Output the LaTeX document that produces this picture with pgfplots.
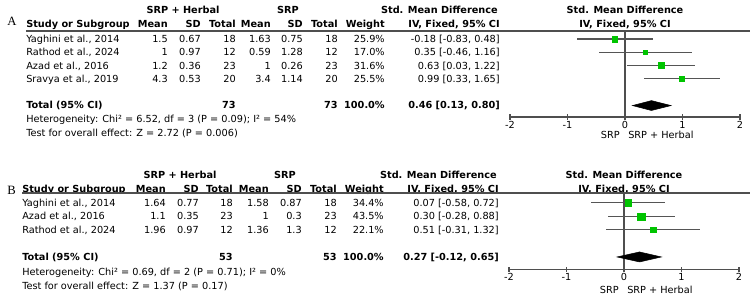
\documentclass[border=0pt]{standalone}
\usepackage{pgfplots}
\pgfplotsset{compat=1.18}
\usepackage{pgfplotstable}
\usepackage{fontspec}
\setmainfont{DejaVu Sans}
\newfontfamily\panelfont{Liberation Serif}

\definecolor{rulegray}{HTML}{4F4F4F}
\definecolor{cigray}{HTML}{555555}
\definecolor{boxgreen}{HTML}{00C400}

% Panel A: per-study SMD, 95% CI and weight (%)
\pgfplotstableread{
y    est    lo     hi    w
-1  -0.18  -0.83  0.48  25.9
-2   0.35  -0.46  1.16  17.0
-3   0.63   0.03  1.22  31.6
-4   0.99   0.33  1.65  25.5
}\studiesA

% Panel B: per-study SMD, 95% CI and weight (%)
\pgfplotstableread{
y    est    lo     hi    w
-1   0.07  -0.58  0.72  34.4
-2   0.30  -0.28  0.88  43.5
-3   0.51  -0.31  1.32  22.1
}\studiesB

\pgfplotsset{
  forest/.style={
    scale only axis, width=172.5pt,
    xmin=-2, xmax=2, clip=false,
    axis x line=bottom, axis y line=none,
    x axis line style={-, draw=rulegray, line width=0.8pt},
    xtick={-2,-1,0,1,2}, xticklabels={-2,-1,0,1,2},
    tick align=center, major tick length=4pt,
    tick style={draw=rulegray, line width=0.8pt},
    xticklabel style={font=\fontsize{7.3}{8}\selectfont, inner sep=1pt},
  },
  ci/.style={draw=none, mark=none,
    error bars/.cd, x dir=both, x explicit, error mark=none,
    error bar style={draw=cigray, line width=0.8pt}},
  boxes/.style={scatter, only marks, mark=square*,
    scatter/use mapped color={draw=boxgreen, fill=boxgreen},
    visualization depends on={0.41*sqrt(\thisrow{w}) \as \msz},
    scatter/@pre marker code/.append style={/tikz/mark size=\msz pt}},
}

\begin{document}
\begin{tikzpicture}[x=0.75pt, y=-0.75pt,
    font=\fontsize{7.3}{8}\selectfont,
    rt/.style={anchor=base east, inner sep=0pt},
    lf/.style={anchor=base west, inner sep=0pt},
    ct/.style={anchor=base, inner sep=0pt}]
\path[use as bounding box] (0,0) rectangle (754,301);

% ---------------- Panel A ----------------
\node[lf, font=\panelfont\fontsize{9.5}{10}\selectfont] at (7,25.5) {A};
\begin{scope}[font=\bfseries\fontsize{7.3}{8}\selectfont]
  \node[ct] at (183,13.5) {SRP + Herbal};
  \node[ct] at (288,13.5) {SRP};
  \node[rt] at (498,13.5) {Std. Mean Difference};
  \node[ct] at (625,13.5) {Std. Mean Difference};
  \node[lf] at (26,27.5) {Study or Subgroup};
  \node[rt] at (168,27.5) {Mean};
  \node[rt] at (201,27.5) {SD};
  \node[rt] at (236,27.5) {Total};
  \node[rt] at (271,27.5) {Mean};
  \node[rt] at (303,27.5) {SD};
  \node[rt] at (338,27.5) {Total};
  \node[rt] at (385,27.5) {Weight};
  \node[rt] at (500,27.5) {IV, Fixed, 95\% CI};
  \node[ct] at (625,27.5) {IV, Fixed, 95\% CI};
\end{scope}
\draw[rulegray, line width=0.8pt] (26,31) -- (750,31);
\foreach \yb/\nm/\ma/\sa/\na/\mb/\sb/\nb/\wt/\smd in {
  42.4/{Yaghini et al., 2014}/1.5/0.67/18/1.63/0.75/18/25.9\%/{-0.18 [-0.83, 0.48]},
  55.7/{Rathod et al., 2024}/1/0.97/12/0.59/1.28/12/17.0\%/{0.35 [-0.46, 1.16]},
  69.0/{Azad et al., 2016}/1.2/0.36/23/1/0.26/23/31.6\%/{0.63 [0.03, 1.22]},
  82.3/{Sravya et al., 2019}/4.3/0.53/20/3.4/1.14/20/25.5\%/{0.99 [0.33, 1.65]}}{
  \node[lf] at (26,\yb) {\nm};
  \node[rt] at (168,\yb) {\ma};
  \node[rt] at (201,\yb) {\sa};
  \node[rt] at (236,\yb) {\na};
  \node[rt] at (271,\yb) {\mb};
  \node[rt] at (303,\yb) {\sb};
  \node[rt] at (338,\yb) {\nb};
  \node[rt] at (385,\yb) {\wt};
  \node[rt] at (500,\yb) {\smd};
}
\begin{scope}[font=\bfseries\fontsize{7.3}{8}\selectfont]
  \node[lf] at (26,108.5) {Total (95\% CI)};
  \node[rt] at (236,108.5) {73};
  \node[rt] at (338,108.5) {73};
  \node[rt] at (385,108.5) {100.0\%};
  \node[rt] at (500,108.5) {0.46 [0.13, 0.80]};
\end{scope}
\node[lf] at (26,122.5) {Heterogeneity: Chi² = 6.52, df = 3 (P = 0.09); I² = 54\%};
\node[lf] at (26,136) {Test for overall effect: Z = 2.72 (P = 0.006)};
\node[rt] at (620,138) {SRP};
\node[lf] at (628,138) {SRP + Herbal};

% axis box: x from 510 px to 740 px, y from 31 px to 117 px
\begin{axis}[forest, at={(382.5pt,-87.75pt)}, anchor=south west,
    height=64.5pt, ymin=-6.86, ymax=-0.4]
  \draw[rulegray, line width=0.8pt] (axis cs:0,-0.4) -- (axis cs:0,-6.86);
  \addplot[ci] table[x=est, y=y,
      x error plus expr=\thisrow{hi}-\thisrow{est},
      x error minus expr=\thisrow{est}-\thisrow{lo}] {\studiesA};
  \addplot[boxes] table[x=est, y=y] {\studiesA};
  % pooled estimate 0.46 [0.13, 0.80]
  \addplot[fill=black, draw=black] coordinates
    {(0.13,-6) (0.46,-5.63) (0.80,-6) (0.46,-6.37)} -- cycle;
\end{axis}

% ---------------- Panel B ----------------
\node[lf, font=\panelfont\fontsize{9.5}{10}\selectfont] at (7,194) {B};
\begin{scope}[xshift=-1.5pt]
\begin{scope}[font=\bfseries\fontsize{7.3}{8}\selectfont]
  \node[ct] at (182,178.5) {SRP + Herbal};
  \node[ct] at (287,178.5) {SRP};
  \node[lf] at (24,192.5) {Study or Subgroup};
  \node[rt] at (168,192.5) {Mean};
  \node[rt] at (201,192.5) {SD};
  \node[rt] at (235,192.5) {Total};
  \node[rt] at (271,192.5) {Mean};
  \node[rt] at (304,192.5) {SD};
  \node[rt] at (339,192.5) {Total};
\end{scope}
\foreach \yb/\nm/\ma/\sa/\na/\mb/\sb/\nb in {
  206.4/{Yaghini et al., 2014}/1.64/0.77/18/1.58/0.87/18,
  219.9/{Azad et al., 2016}/1.1/0.35/23/1/0.3/23,
  233.4/{Rathod et al., 2024}/1.96/0.97/12/1.36/1.3/12}{
  \node[lf] at (24,\yb) {\nm};
  \node[rt] at (168,\yb) {\ma};
  \node[rt] at (201,\yb) {\sa};
  \node[rt] at (235,\yb) {\na};
  \node[rt] at (271,\yb) {\mb};
  \node[rt] at (304,\yb) {\sb};
  \node[rt] at (339,\yb) {\nb};
}
\begin{scope}[font=\bfseries\fontsize{7.3}{8}\selectfont]
  \node[lf] at (24,260.5) {Total (95\% CI)};
  \node[rt] at (235,260.5) {53};
  \node[rt] at (339,260.5) {53};
\end{scope}
\node[lf] at (24,275.5) {Heterogeneity: Chi² = 0.69, df = 2 (P = 0.71); I² = 0\%};
\node[lf] at (24,289.5) {Test for overall effect: Z = 1.37 (P = 0.17)};
\end{scope}
\begin{scope}[font=\bfseries\fontsize{7.3}{8}\selectfont]
  \node[rt] at (497,178.5) {Std. Mean Difference};
  \node[ct] at (624,178.5) {Std. Mean Difference};
  \node[rt] at (384,192.5) {Weight};
  \node[rt] at (499,192.5) {IV, Fixed, 95\% CI};
  \node[ct] at (624,192.5) {IV, Fixed, 95\% CI};
  \node[rt] at (384,260.5) {100.0\%};
  \node[rt] at (499,260.5) {0.27 [-0.12, 0.65]};
\end{scope}
\draw[rulegray, line width=0.8pt] (22,193) -- (750,193);
\foreach \yb/\wt/\smd in {
  206.4/34.4\%/{0.07 [-0.58, 0.72]},
  219.9/43.5\%/{0.30 [-0.28, 0.88]},
  233.4/22.1\%/{0.51 [-0.31, 1.32]}}{
  \node[rt] at (384,\yb) {\wt};
  \node[rt] at (499,\yb) {\smd};
}
\node[rt] at (619,293.5) {SRP};
\node[lf] at (627,293.5) {SRP + Herbal};

% axis box: x from 509 px to 739 px, y from 193 px to 269.5 px
\begin{axis}[forest, at={(381.75pt,-202.125pt)}, anchor=south west,
    height=57.4pt, ymin=-5.93, ymax=-0.26]
  \draw[rulegray, line width=0.8pt] (axis cs:0,-0.26) -- (axis cs:0,-5.93);
  \addplot[ci] table[x=est, y=y,
      x error plus expr=\thisrow{hi}-\thisrow{est},
      x error minus expr=\thisrow{est}-\thisrow{lo}] {\studiesB};
  \addplot[boxes] table[x=est, y=y] {\studiesB};
  % pooled estimate 0.27 [-0.12, 0.65]
  \addplot[fill=black, draw=black] coordinates
    {(-0.12,-5) (0.27,-4.63) (0.65,-5) (0.27,-5.37)} -- cycle;
\end{axis}
\end{tikzpicture}
\end{document}
